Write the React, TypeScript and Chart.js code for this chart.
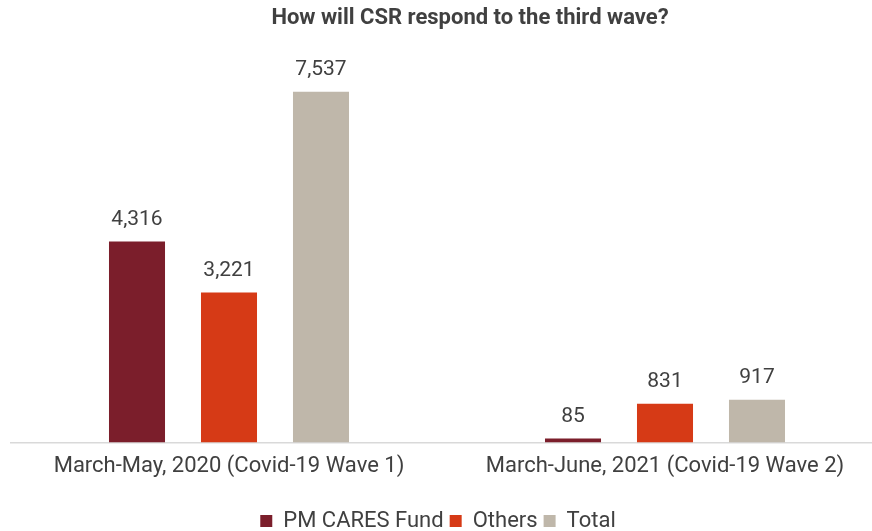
import { useEffect, useRef } from 'react';
import { Chart, registerables } from 'chart.js';

Chart.register(...registerables);

const categories = ['March-May, 2020 (Covid-19 Wave 1)', 'March-June, 2021 (Covid-19 Wave 2)'];
const seriesNames = ['PM CARES Fund', 'Others', 'Total'];
const pmCaresValues = [4316, 85];
const othersValues = [3221, 831];
const totalValues = [7537, 917];
const chartTitle = 'How will CSR respond to the third wave?';

const COLORS = ['#7B1E2B', '#D63A16', '#BFB7AA'];
const TEXT = '#404040';

const overlayPlugin = {
  id: 'overlay',
  afterLayout(chart: any) {
    if (chart.legend) {
      chart.legend.left -= 9;
      chart.legend.right -= 9;
    }
  },
  afterDatasetsDraw(chart: any) {
    const ctx = chart.ctx as CanvasRenderingContext2D;
    ctx.save();
    ctx.fillStyle = TEXT;
    ctx.font = '400 21px Roboto';
    ctx.textAlign = 'center';
    ctx.textBaseline = 'middle';
    chart.data.datasets.forEach((ds: any, i: number) => {
      const meta = chart.getDatasetMeta(i);
      meta.data.forEach((bar: any, j: number) => {
        const v = ds.data[j] as number;
        ctx.fillText(v.toLocaleString('en-US'), bar.x, bar.y - 22);
      });
    });
    ctx.font = '700 22px Roboto';
    ctx.fillText(chartTitle, 470, 18);
    ctx.restore();
  },
};

export default function App() {
  const ref = useRef<HTMLCanvasElement | null>(null);
  useEffect(() => {
    if (!ref.current) return;
    const values = [pmCaresValues, othersValues, totalValues];
    const chart = new Chart(ref.current, {
      type: 'bar',
      data: {
        labels: categories,
        datasets: seriesNames.map((name, i) => ({
          label: name,
          data: values[i],
          backgroundColor: COLORS[i],
          borderWidth: 0,
          barPercentage: 0.609,
          categoryPercentage: 0.633,
        })),
      },
      options: {
        responsive: false,
        animation: false,
        layout: { padding: { top: 70.1, left: 11, right: 1, bottom: 0 } },
        plugins: {
          legend: {
            position: 'bottom',
            labels: {
              boxWidth: 12,
              boxHeight: 12,
              padding: 6,
              color: TEXT,
              font: { family: 'Roboto', size: 22 },
            },
          },
          tooltip: { enabled: false },
          title: { display: false },
        },
        scales: {
          x: {
            grid: { display: false, drawTicks: false },
            border: { display: true, color: '#D9D9D9', width: 1.5 },
            ticks: {
              color: TEXT,
              padding: 11,
              font: { family: 'Roboto', size: 22 },
              maxRotation: 0,
            },
            afterFit: (scale: any) => {
              scale.height = 61.5;
            },
          },
          y: {
            display: false,
            min: 0,
            max: 8000,
          },
        },
      },
      plugins: [overlayPlugin],
    });
    return () => chart.destroy();
  }, []);
  return (
    <div style={{ position: 'fixed', left: 0, top: 0, width: 872, height: 531, overflow: 'hidden', background: '#fff' }}>
      <canvas ref={ref} width={884} height={542} style={{ width: 884, height: 542, display: 'block' }} />
    </div>
  );
}
